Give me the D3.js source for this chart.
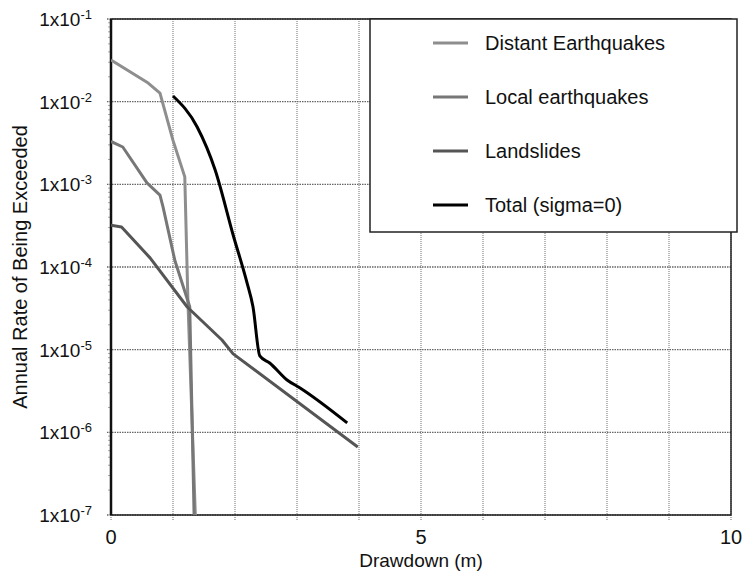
<!DOCTYPE html>
<html>
<head>
<meta charset="utf-8">
<script src="https://cdn.jsdelivr.net/npm/d3@7"></script>
<style>
  body { margin: 0; background: #fff; }
  svg { font-family: "Liberation Sans", Arial, Helvetica, sans-serif; }
</style>
</head>
<body>
<svg width="743" height="573"></svg>
<script>
// data
var distantX = [0, 0.6, 0.79, 1.0, 1.19, 1.24, 1.36];
var distantY = [3.2e-2, 1.68e-2, 1.27e-2, 3.4e-3, 1.23e-3, 4e-5, 1e-7];

var localX = [0, 0.19, 0.58, 0.79, 0.84, 1.03, 1.27, 1.34];
var localY = [3.3e-3, 2.83e-3, 1.04e-3, 7.4e-4, 5.3e-4, 1.2e-4, 3.3e-5, 1e-7];

var slideX = [0, 0.17, 0.63, 1.23, 1.79, 1.97, 3.98];
var slideY = [3.2e-4, 3.05e-4, 1.29e-4, 3.28e-5, 1.31e-5, 8.9e-6, 6.65e-7];

var totalX = [1.0, 1.39, 1.68, 1.97, 2.19, 2.29, 2.40, 2.56, 2.84, 3.05, 3.81];
var totalY = [1.17e-2, 4.94e-3, 1.49e-3, 2.44e-4, 6.6e-5, 3.3e-5, 8.4e-6, 6.9e-6, 4.3e-6, 3.44e-6, 1.3e-6];

var seriesNames = ["Distant Earthquakes", "Local earthquakes", "Landslides", "Total (sigma=0)"];
var yTickExp = [-1, -2, -3, -4, -5, -6, -7];
var xTicks = [0, 1, 2, 3, 4, 5, 6, 7, 8, 9, 10];
var xLabels = [0, 5, 10];

var svg = d3.select("svg");
var margin = {top: 19, left: 111, right: 12, bottom: 58};
var width = 743 - margin.left - margin.right,
    height = 573 - margin.top - margin.bottom;

var x = d3.scaleLinear().domain([0, 10]).range([0, width]);
var y = d3.scaleLog().domain([1e-7, 1e-1]).range([height, 0]);

var g = svg.append("g")
    .attr("transform", "translate(" + margin.left + "," + margin.top + ")");

svg.append("defs").append("clipPath").attr("id", "clip")
  .append("rect").attr("width", width).attr("height", height);

// grid
g.selectAll(".vgrid").data(xTicks).enter().append("line")
    .attr("x1", x).attr("x2", x)
    .attr("y1", 0).attr("y2", height + 5)
    .attr("stroke", "#888").attr("stroke-width", 1.2)
    .attr("stroke-dasharray", "1,1");

g.selectAll(".hgrid").data(yTickExp).enter().append("line")
    .attr("x1", -4).attr("x2", width)
    .attr("y1", function(d) { return y(Math.pow(10, d)); })
    .attr("y2", function(d) { return y(Math.pow(10, d)); })
    .attr("stroke", "#666").attr("stroke-width", 1.3)
    .attr("stroke-dasharray", "1.5,1");

// minor ticks on y
var minor = [];
yTickExp.forEach(function(e) {
  if (e === -1) return;
  for (var k = 2; k < 10; k++) minor.push(k * Math.pow(10, e));
});
g.selectAll(".minor").data(minor).enter().append("line")
    .attr("x1", -3).attr("x2", 0)
    .attr("y1", y).attr("y2", y)
    .attr("stroke", "#aaa");

// frame
g.append("rect")
    .attr("width", width).attr("height", height)
    .attr("fill", "none").attr("stroke", "#222").attr("stroke-width", 1.5);
g.append("line")
    .attr("x1", 0).attr("x2", 0).attr("y1", 0).attr("y2", height)
    .attr("stroke", "#111").attr("stroke-width", 2.5);

// curves
var line = d3.line()
    .x(function(d) { return x(d[0]); })
    .y(function(d) { return y(d[1]); });
var smooth = d3.line()
    .curve(d3.curveMonotoneX)
    .x(function(d) { return x(d[0]); })
    .y(function(d) { return y(d[1]); });

var series = [
  {xs: distantX, ys: distantY, color: "#8e8e8e", gen: line},
  {xs: localX, ys: localY, color: "#777", gen: line},
  {xs: slideX, ys: slideY, color: "#555", gen: line},
  {xs: totalX, ys: totalY, color: "#000", gen: smooth}
];

g.append("g").attr("clip-path", "url(#clip)")
  .selectAll("path").data(series).enter().append("path")
    .attr("d", function(s) { return s.gen(d3.zip(s.xs, s.ys)); })
    .attr("fill", "none")
    .attr("stroke", function(s) { return s.color; })
    .attr("stroke-width", 3)
    .attr("stroke-linejoin", "round");

// y labels
var yl = g.selectAll(".ylab").data(yTickExp).enter().append("text")
    .attr("x", -19)
    .attr("y", function(d) { return y(Math.pow(10, d)) + 7; })
    .attr("text-anchor", "end")
    .attr("font-size", 19)
    .attr("fill", "#111");
yl.append("tspan").text("1x10");
yl.append("tspan")
    .attr("font-size", 13)
    .attr("dy", -7)
    .text(function(d) { return String(d); });

// x labels
g.selectAll(".xlab").data(xLabels).enter().append("text")
    .attr("x", x)
    .attr("y", height + 29)
    .attr("text-anchor", "middle")
    .attr("font-size", 20)
    .attr("fill", "#111")
    .text(function(d) { return d; });

svg.append("text")
    .attr("x", margin.left + x(5))
    .attr("y", 567)
    .attr("text-anchor", "middle")
    .attr("font-size", 19)
    .attr("fill", "#111")
    .text("Drawdown (m)");

svg.append("text")
    .attr("transform", "translate(27," + (margin.top + height / 2) + ") rotate(-90)")
    .attr("text-anchor", "middle")
    .attr("font-size", 20)
    .attr("fill", "#111")
    .text("Annual Rate of Being Exceeded");

// legend
var legend = svg.append("g").attr("transform", "translate(370,19)");
legend.append("rect")
    .attr("width", 367).attr("height", 213)
    .attr("fill", "#fff").attr("stroke", "#222").attr("stroke-width", 1.5);

var item = legend.selectAll(".item").data(series).enter().append("g")
    .attr("transform", function(d, i) { return "translate(0," + (24 + i * 54) + ")"; });
item.append("line")
    .attr("x1", 63).attr("x2", 98)
    .attr("stroke", function(d) { return d.color; })
    .attr("stroke-width", 3);
item.append("text")
    .attr("x", 115).attr("y", 7)
    .attr("font-size", 20)
    .attr("fill", "#111")
    .text(function(d, i) { return seriesNames[i]; });
</script>
</body>
</html>
